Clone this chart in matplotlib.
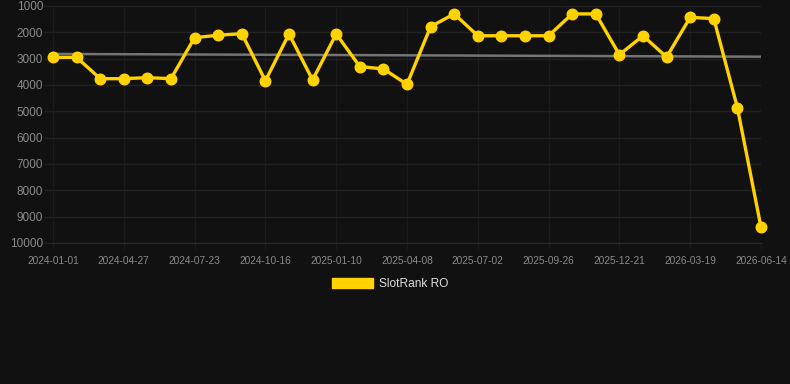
import matplotlib
matplotlib.use("Agg")
import matplotlib.pyplot as plt
from matplotlib.patches import Patch

plt.rcParams['font.family'] = ['Liberation Sans', 'DejaVu Sans']

# ---- data ----
tick_labels = ["2024-01-01", "2024-04-27", "2024-07-23", "2024-10-16", "2025-01-10",
               "2025-04-08", "2025-07-02", "2025-09-26", "2025-12-21", "2026-03-19",
               "2026-06-14"]
ranks = [2950, 2950, 3760, 3760, 3720, 3760, 2200, 2110, 2050, 3840,
         2060, 3810, 2060, 3300, 3390, 3975, 1785, 1300, 2130, 2130,
         2130, 2130, 1300, 1300, 2850, 2130, 2940, 1430, 1480, 4860, 9400]
trend_start = 2820
trend_end = 2925
series_name = "SlotRank RO"
y_ticks = [1000, 2000, 3000, 4000, 5000, 6000, 7000, 8000, 9000, 10000]

# ---- style ----
BG = "#111111"
HGRID = "#212121"
VGRID = "#1b1b1b"
AXLINE = "#2a2a2a"
TXT = "#8a8a8a"
GOLD = "#FFD200"
TREND = "#747474"

W, H = 790, 384
fig = plt.figure(figsize=(W / 100, H / 100), dpi=100, facecolor=BG)
left, right, top, bottom = 53, 761, 6, 243
ax = fig.add_axes([left / W, 1 - bottom / H, (right - left) / W, (bottom - top) / H])
ax.set_facecolor(BG)

n = len(ranks)
xs = list(range(n))

ax.plot([0, n - 1], [trend_start, trend_end], color=TREND, lw=1.8, zorder=2,
        solid_capstyle='butt', clip_on=False)
ax.plot(xs, ranks, color=GOLD, lw=2.4, marker='o', ms=7.6, mfc=GOLD, mec=GOLD,
        zorder=3, clip_on=False)

ax.set_xlim(0, n - 1)
ax.set_ylim(10000, 1000)
ax.set_yticks(y_ticks)
ax.set_yticklabels([str(v) for v in y_ticks])
tick_pos = list(range(0, n, 3))
ax.set_xticks(tick_pos)
ax.set_xticklabels(tick_labels)

ax.yaxis.grid(True, color=HGRID, lw=1)
ax.xaxis.grid(True, color=VGRID, lw=1)
ax.set_axisbelow(True)
for s in ax.spines.values():
    s.set_visible(False)
ax.spines['bottom'].set_visible(True)
ax.spines['bottom'].set_color(AXLINE)
ax.spines['left'].set_visible(True)
ax.spines['left'].set_color(VGRID)
ax.tick_params(axis='y', colors=HGRID, labelcolor=TXT, labelsize=8.5, length=6.5, width=1, pad=0.6)
ax.tick_params(axis='x', colors=VGRID, labelcolor=TXT, labelsize=7.3, length=4.5, width=1, pad=4.5)

leg = fig.legend(handles=[Patch(facecolor=GOLD, edgecolor=GOLD)], labels=[series_name],
                 loc='center', bbox_to_anchor=(0.5 - 5 / W, 1 - 284 / H), frameon=False,
                 handlelength=3.4, handleheight=1.0, handletextpad=0.5,
                 prop={'size': 8.6})
for t in leg.get_texts():
    t.set_color("#dddddd")

fig.savefig("out.png", dpi=100, facecolor=BG)
